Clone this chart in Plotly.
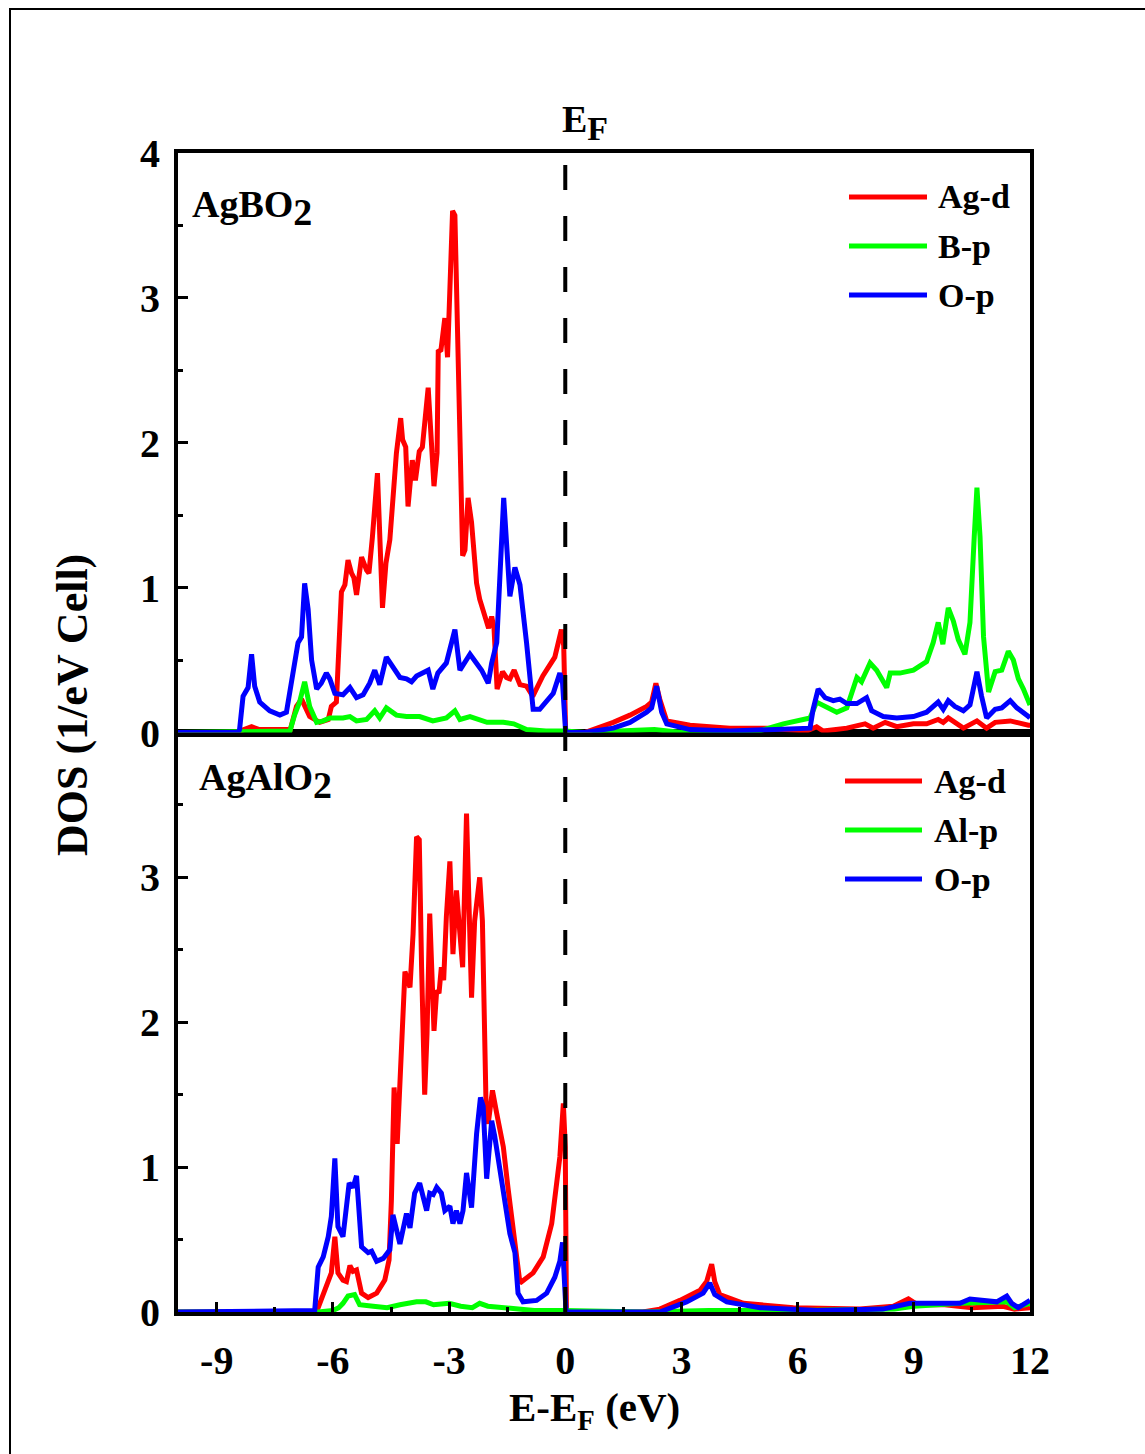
import plotly.graph_objects as go

# ---------------- DATA ----------------
# Top panel: AgBO2
E_bo_agd = [-10, -8.5, -8.3, -8.1, -7.9, -7.1, -6.94, -6.81, -6.6, -6.34, -6.12, -6.04, -5.91, -5.82, -5.78,
            -5.69, -5.61, -5.52, -5.46, -5.39, -5.26, -5.13, -5.07, -4.98, -4.85, -4.72, -4.63, -4.53, -4.42,
            -4.36, -4.25, -4.20, -4.12, -4.06, -3.95, -3.87, -3.77, -3.69, -3.54, -3.39, -3.31, -3.28, -3.21,
            -3.11, -3.04, -2.96, -2.91, -2.85, -2.79, -2.72, -2.65, -2.59, -2.51, -2.42, -2.29, -2.21, -2.08,
            -1.98, -1.90, -1.84, -1.76, -1.62, -1.52, -1.43, -1.32, -1.17, -1.0, -0.84, -0.58, -0.27, -0.10,
            -0.04, 0.01, 0.5, 1.24, 1.67, 2.10, 2.23, 2.34, 2.44, 2.62, 3.22, 4.25, 5.20, 6.23, 6.49, 6.66,
            7.27, 7.74, 7.95, 8.26, 8.56, 8.99, 9.33, 9.63, 9.76, 9.89, 10.28, 10.63, 10.88, 11.10, 11.49,
            11.96, 12]
dos_bo_agd = [0, 0, 0.02, 0.04, 0.02, 0.02, 0.18, 0.23, 0.11, 0.07, 0.09, 0.18, 0.21, 0.70, 0.97,
              1.02, 1.19, 1.10, 1.07, 0.95, 1.21, 1.12, 1.10, 1.35, 1.79, 0.86, 1.17, 1.33, 1.72,
              1.93, 2.17, 2.02, 1.97, 1.56, 1.88, 1.74, 1.94, 1.97, 2.38, 1.70, 1.93, 2.63, 2.64,
              2.86, 2.59, 3.28, 3.60, 3.57, 2.94, 1.91, 1.22, 1.26, 1.62, 1.45, 1.03, 0.92, 0.80,
              0.72, 0.80, 0.72, 0.30, 0.42, 0.38, 0.37, 0.43, 0.33, 0.32, 0.25, 0.39, 0.52, 0.71,
              0.60, 0.0, 0.0, 0.07, 0.12, 0.18, 0.21, 0.34, 0.23, 0.08, 0.05, 0.03, 0.03, 0.01, 0.04, 0.01,
              0.03, 0.06, 0.03, 0.07, 0.04, 0.06, 0.06, 0.09, 0.07, 0.10, 0.03, 0.08, 0.03, 0.07, 0.08,
              0.05, 0.05]

E_bo_bp = [-10, -7.11, -6.99, -6.86, -6.73, -6.60, -6.42, -6.25, -6.08, -5.74, -5.56, -5.39, -5.13, -4.92,
           -4.79, -4.62, -4.36, -4.10, -3.76, -3.42, -3.07, -2.85, -2.72, -2.46, -2.02, -1.6, -1.33, -1.0,
           -0.5, 0.0, 0.5, 1.5, 2.3, 3.0, 5.0, 5.63, 5.98, 6.32, 6.49, 6.75, 7.01, 7.27, 7.44, 7.53, 7.65,
           7.87, 8.04, 8.30, 8.39, 8.64, 8.99, 9.33, 9.50, 9.63, 9.75, 9.89, 10.02, 10.15, 10.32, 10.45,
           10.56, 10.63, 10.71, 10.80, 10.93, 11.10, 11.27, 11.44, 11.57, 11.70, 11.83, 11.96, 12]
dos_bo_bp = [0, 0.01, 0.12, 0.21, 0.35, 0.18, 0.07, 0.08, 0.10, 0.10, 0.11, 0.08, 0.09, 0.15,
             0.10, 0.17, 0.12, 0.11, 0.11, 0.08, 0.10, 0.15, 0.09, 0.11, 0.07, 0.07, 0.06, 0.02,
             0.01, 0.01, 0.0, 0.01, 0.02, 0.0, 0.01, 0.06, 0.08, 0.10, 0.21, 0.17, 0.14, 0.17, 0.30, 0.38, 0.35,
             0.48, 0.43, 0.31, 0.41, 0.41, 0.43, 0.49, 0.62, 0.76, 0.61, 0.86, 0.77, 0.64, 0.54, 0.76,
             1.35, 1.69, 1.35, 0.66, 0.28, 0.42, 0.43, 0.56, 0.50, 0.37, 0.30, 0.23, 0.19]

E_bo_op = [-10, -8.45, -8.41, -8.32, -8.19, -8.10, -8.02, -7.89, -7.63, -7.37, -7.20, -7.03, -6.90, -6.81,
           -6.73, -6.64, -6.55, -6.42, -6.30, -6.17, -6.08, -5.95, -5.74, -5.56, -5.39, -5.22, -5.05, -4.92,
           -4.79, -4.62, -4.45, -4.27, -4.10, -3.97, -3.84, -3.71, -3.54, -3.42, -3.29, -3.07, -2.85, -2.72,
           -2.46, -2.16, -1.99, -1.90, -1.77, -1.59, -1.43, -1.30, -1.17, -1.0, -0.83, -0.66, -0.31, -0.14,
           -0.07, 0.01, 0.5, 1.24, 1.67, 2.10, 2.23, 2.36, 2.49, 2.62, 3.22, 4.25, 6.32, 6.40, 6.53, 6.71,
           6.92, 7.09, 7.27, 7.53, 7.78, 7.91, 8.21, 8.56, 8.99, 9.33, 9.63, 9.76, 9.89, 10.06, 10.28, 10.45,
           10.63, 10.75, 10.88, 11.10, 11.27, 11.49, 11.66, 11.96, 12]
dos_bo_op = [0, 0, 0.02, 0.25, 0.31, 0.54, 0.32, 0.21, 0.15, 0.12, 0.14, 0.41, 0.62, 0.66,
             1.03, 0.85, 0.50, 0.30, 0.34, 0.41, 0.37, 0.27, 0.26, 0.31, 0.24, 0.26, 0.34, 0.43,
             0.33, 0.52, 0.45, 0.38, 0.37, 0.35, 0.39, 0.41, 0.43, 0.30, 0.41, 0.48, 0.71, 0.43,
             0.54, 0.43, 0.34, 0.48, 0.62, 1.62, 0.94, 1.14, 1.02, 0.62, 0.16, 0.16, 0.27, 0.41,
             0.34, 0.0, 0.0, 0.03, 0.07, 0.14, 0.17, 0.32, 0.14, 0.06, 0.02, 0.01, 0.03, 0.16, 0.30, 0.24,
             0.22, 0.23, 0.20, 0.20, 0.24, 0.15, 0.11, 0.10, 0.11, 0.14, 0.21, 0.16, 0.22, 0.18, 0.15, 0.19,
             0.42, 0.25, 0.10, 0.16, 0.17, 0.22, 0.17, 0.11, 0.10]

# Bottom panel: AgAlO2
E_al_agd = [-10, -6.45, -6.38, -6.17, -6.04, -5.95, -5.87, -5.74, -5.65, -5.56, -5.48, -5.39, -5.26, -5.09,
            -4.87, -4.66, -4.55, -4.49, -4.42, -4.34, -4.23, -4.14, -4.01, -3.93, -3.84, -3.77, -3.71, -3.63,
            -3.57, -3.50, -3.43, -3.39, -3.32, -3.26, -3.20, -3.14, -3.07, -2.98, -2.90, -2.81, -2.72, -2.65,
            -2.55, -2.42, -2.34, -2.21, -2.14, -2.04, -1.99, -1.88, -1.77, -1.65, -1.60, -1.48, -1.39, -1.32,
            -1.26, -1.17, -0.83, -0.57, -0.35, -0.24, -0.14, -0.05, 0.0, 0.03, 2.0, 2.44, 2.96, 3.48, 3.65,
            3.78, 3.86, 3.99, 4.60, 5.89, 7.61, 8.47, 8.86, 9.1, 9.8, 10.5, 11.3, 11.6, 12]
dos_al_agd = [0, 0, 0.03, 0.17, 0.27, 0.52, 0.27, 0.22, 0.21, 0.32, 0.28, 0.29, 0.13, 0.10,
              0.13, 0.22, 0.36, 0.77, 1.55, 1.16, 1.92, 2.35, 2.24, 2.61, 3.28, 3.26, 2.38, 1.50,
              1.92, 2.75, 2.24, 1.94, 2.22, 2.20, 2.38, 2.29, 2.73, 3.11, 2.47, 2.91, 2.61, 2.38,
              3.44, 2.17, 2.70, 3.00, 2.70, 1.35, 1.30, 1.53, 1.37, 1.23, 1.14, 0.86, 0.66, 0.57,
              0.38, 0.20, 0.27, 0.38, 0.61, 0.89, 1.07, 1.44, 1.14, 0.0, 0.0, 0.02, 0.08, 0.15, 0.21,
              0.33, 0.21, 0.12, 0.06, 0.03, 0.02, 0.04, 0.09, 0.05, 0.05, 0.03, 0.04, 0.02, 0.03]

E_al_alp = [-10, -6.38, -6.0, -5.85, -5.74, -5.61, -5.44, -5.31, -4.96, -4.6, -4.27, -3.84, -3.6, -3.4, -3.0,
            -2.7, -2.4, -2.21, -2.0, -1.6, -1.2, -0.8, 0.0, 2.0, 3.7, 6.0, 8.5, 9.0, 10.2, 11.4, 11.6, 12]
dos_al_alp = [0, 0, 0.01, 0.03, 0.06, 0.11, 0.12, 0.05, 0.04, 0.03, 0.05, 0.07, 0.07, 0.05, 0.06,
              0.04, 0.03, 0.06, 0.04, 0.03, 0.02, 0.01, 0.01, 0.0, 0.01, 0.01, 0.02, 0.04, 0.06, 0.07, 0.03, 0.06]

E_al_op = [-10, -6.47, -6.38, -6.25, -6.12, -6.04, -5.95, -5.87, -5.74, -5.58, -5.48, -5.39, -5.26, -5.09,
           -5.00, -4.87, -4.70, -4.53, -4.45, -4.27, -4.10, -4.01, -3.89, -3.76, -3.58, -3.50, -3.41, -3.32,
           -3.20, -3.11, -2.98, -2.90, -2.81, -2.72, -2.64, -2.55, -2.42, -2.29, -2.19, -2.12, -2.03, -1.90,
           -1.82, -1.69, -1.52, -1.43, -1.30, -1.22, -1.09, -0.74, -0.48, -0.27, -0.14, -0.07, -0.04, 0.02,
           2.44, 3.13, 3.56, 3.73, 3.86, 4.17, 5.03, 6.5, 8.2, 8.90, 9.76, 10.19, 10.45, 10.80, 11.14, 11.40,
           11.53, 11.7, 12]
dos_al_op = [0, 0.01, 0.31, 0.38, 0.52, 0.66, 1.06, 0.59, 0.52, 0.89, 0.86, 0.94, 0.45, 0.41,
             0.42, 0.35, 0.37, 0.43, 0.67, 0.47, 0.68, 0.58, 0.82, 0.89, 0.70, 0.82, 0.81, 0.86,
             0.82, 0.70, 0.73, 0.61, 0.70, 0.61, 0.70, 0.96, 0.72, 1.23, 1.48, 1.42, 0.92, 1.32,
             1.21, 0.98, 0.73, 0.54, 0.41, 0.13, 0.07, 0.08, 0.13, 0.24, 0.35, 0.48, 0.31, 0.0,
             0.0, 0.07, 0.13, 0.20, 0.12, 0.07, 0.03, 0.01, 0.02, 0.06, 0.06, 0.06, 0.09, 0.08, 0.07, 0.11,
             0.06, 0.03, 0.08]

x_ticks = [-9, -6, -3, 0, 3, 6, 9, 12]
y_ticks_top = [0, 1, 2, 3, 4]
y_ticks_bot = [0, 1, 2, 3]

legend_top = ["Ag-d", "B-p", "O-p"]
legend_bot = ["Ag-d", "Al-p", "O-p"]
colors = ["#ff0000", "#00ff00", "#0000ff"]

# ---------------- FIGURE ----------------
W, H = 1145, 1454
L, R, T, B = 178, 115, 153, 142
PW, PH = W - L - R, H - T - B
FONT = "Liberation Serif"


def px(xp):
    return (xp - L) / PW


def py(yp):
    return (H - B - yp) / PH


fig = go.Figure()
LW = 5
top_series = [(E_bo_agd, dos_bo_agd), (E_bo_bp, dos_bo_bp), (E_bo_op, dos_bo_op)]
bot_series = [(E_al_agd, dos_al_agd), (E_al_alp, dos_al_alp), (E_al_op, dos_al_op)]
for (xs, ys), name, c in zip(top_series, legend_top, colors):
    fig.add_trace(go.Scatter(x=xs, y=ys, mode="lines", name=name, line=dict(color=c, width=LW),
                             xaxis="x2", yaxis="y2", showlegend=False))
for (xs, ys), name, c in zip(bot_series, legend_bot, colors):
    fig.add_trace(go.Scatter(x=xs, y=ys, mode="lines", name=name, line=dict(color=c, width=LW),
                             xaxis="x", yaxis="y", showlegend=False))

tickfont = dict(family=FONT, size=40, color="black", weight="bold")
common_x = dict(range=[-10, 12], showline=True, linewidth=4, linecolor="black", mirror=True,
                showgrid=False, zeroline=False)
common_y = dict(range=[0, 4], showline=True, linewidth=4, linecolor="black", mirror=True,
                showgrid=False, zeroline=False, ticks="inside", ticklen=10, tickwidth=3,
                tickcolor="black", tickfont=tickfont, ticklabelstandoff=6)

fig.update_layout(
    width=W, height=H,
    margin=dict(l=L, r=R, t=T, b=B, pad=0),
    paper_bgcolor="white", plot_bgcolor="white",
    showlegend=False,
    xaxis=dict(**common_x, domain=[0, 1], anchor="y", tickmode="array", tickvals=x_ticks,
               ticktext=[str(v) for v in x_ticks], ticks="inside", ticklen=10, tickwidth=3,
               tickcolor="black", tickfont=tickfont, ticklabelstandoff=10,
               minor=dict(tickmode="array", tickvals=[v + 1.5 for v in x_ticks[:-1]],
                          ticks="inside", ticklen=5, tickwidth=3, tickcolor="black")),
    xaxis2=dict(**common_x, domain=[0, 1], anchor="y2", matches="x", showticklabels=False, ticks=""),
    yaxis=dict(**common_y, domain=[0, 0.5], anchor="x", tickmode="array", tickvals=y_ticks_bot,
               ticktext=[str(v) for v in y_ticks_bot],
               minor=dict(tickmode="array", tickvals=[v + 0.5 for v in y_ticks_bot],
                          ticks="inside", ticklen=5, tickwidth=3, tickcolor="black")),
    yaxis2=dict(**common_y, domain=[0.5, 1], anchor="x2", tickmode="array", tickvals=y_ticks_top,
                ticktext=[str(v) for v in y_ticks_top],
                minor=dict(tickmode="array", tickvals=[v + 0.5 for v in y_ticks_top[:-1]],
                           ticks="inside", ticklen=5, tickwidth=3, tickcolor="black")),
)

shapes = []
# Fermi level dashed line
shapes.append(dict(type="line", xref="x", yref="paper", x0=0, x1=0, y0=0, y1=1,
                   line=dict(color="black", width=4, dash="25px,26px"), layer="above"))
# Outer frame
shapes.append(dict(type="rect", xref="paper", yref="paper", x0=px(10), x1=px(1170), y0=py(1480), y1=py(9),
                   line=dict(color="black", width=2), layer="below"))

annotations = []
lab_font = dict(family=FONT, size=34, color="black", weight="bold")
# legends (manual, to reproduce long sample lines)
for names, ys, x0, x1, xt in [(legend_top, [197, 246, 295], 849, 927, 936),
                              (legend_bot, [781, 830, 879], 845, 922, 932)]:
    for n, yy, c in zip(names, ys, colors):
        shapes.append(dict(type="line", xref="paper", yref="paper", x0=px(x0), x1=px(x1),
                           y0=py(yy), y1=py(yy), line=dict(color=c, width=LW)))
        annotations.append(dict(text=n, xref="paper", yref="paper", x=px(xt), y=py(yy),
                                xanchor="left", yanchor="middle", showarrow=False, font=lab_font))

panel_font = dict(family=FONT, size=38, color="black", weight="bold")
sub2 = "<sub><span style='font-size:38px'>2</span></sub>"
annotations.append(dict(text="AgBO" + sub2, xref="paper", yref="paper", x=px(190), y=py(208),
                        xanchor="left", yanchor="middle", showarrow=False, font=panel_font))
annotations.append(dict(text="AgAlO" + sub2, xref="paper", yref="paper", x=px(197), y=py(781),
                        xanchor="left", yanchor="middle", showarrow=False, font=panel_font))
# E_F label
annotations.append(dict(text="E<sub><span style='font-size:34px'>F</span></sub>", xref="x2", yref="paper",
                        x=0.5, y=py(122), xanchor="center", yanchor="middle", showarrow=False,
                        font=panel_font))
# axis titles
annotations.append(dict(text="DOS (1/eV Cell)", xref="paper", yref="paper", x=px(72), y=py(705),
                        textangle=-90, xanchor="center", yanchor="middle", showarrow=False,
                        font=dict(family=FONT, size=44, color="black", weight="bold")))
annotations.append(dict(text="E-E<sub>F</sub> (eV)", xref="paper", yref="paper", x=px(594), y=py(1410),
                        xanchor="center", yanchor="middle", showarrow=False,
                        font=dict(family=FONT, size=41, color="black", weight="bold")))

fig.update_layout(shapes=shapes, annotations=annotations)
fig.write_html("out.html")
